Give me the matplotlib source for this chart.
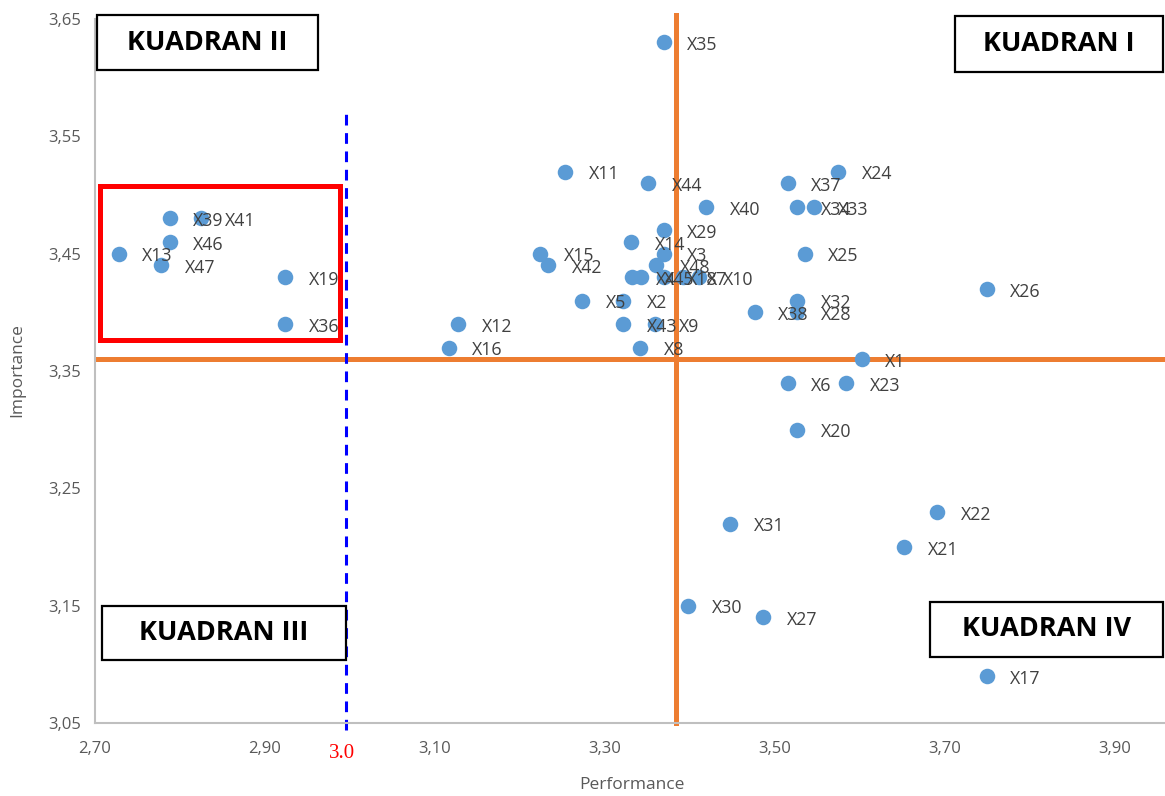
import matplotlib
matplotlib.use("Agg")
import matplotlib.pyplot as plt
from matplotlib.patches import Rectangle

# IPA data: performance (x) vs importance (y)
labels = ["X1", "X2", "X3", "X4", "X5", "X6", "X7", "X8", "X9", "X10",
          "X11", "X12", "X13", "X14", "X15", "X16", "X17", "X18", "X19", "X20",
          "X21", "X22", "X23", "X24", "X25", "X26", "X27", "X28", "X29", "X30",
          "X31", "X32", "X33", "X34", "X35", "X36", "X37", "X38", "X39", "X40",
          "X41", "X42", "X43", "X44", "X45", "X46", "X47", "X48"]
performance = [3.602, 3.321, 3.369, 3.332, 3.273, 3.515, 3.392, 3.341, 3.359, 3.411,
               3.253, 3.127, 2.728, 3.331, 3.224, 3.116, 3.749, 3.369, 2.924, 3.526,
               3.652, 3.691, 3.584, 3.574, 3.535, 3.749, 3.486, 3.526, 3.369, 3.398,
               3.447, 3.526, 3.546, 3.526, 3.369, 2.924, 3.515, 3.476, 2.788, 3.419,
               2.825, 3.233, 3.321, 3.351, 3.342, 2.788, 2.778, 3.360]
importance = [3.36, 3.41, 3.45, 3.43, 3.41, 3.34, 3.43, 3.37, 3.39, 3.43,
              3.52, 3.39, 3.45, 3.46, 3.45, 3.37, 3.09, 3.43, 3.43, 3.30,
              3.20, 3.23, 3.34, 3.52, 3.45, 3.42, 3.14, 3.40, 3.47, 3.15,
              3.22, 3.41, 3.49, 3.49, 3.63, 3.39, 3.51, 3.40, 3.48, 3.49,
              3.48, 3.44, 3.39, 3.51, 3.43, 3.46, 3.44, 3.44]

mean_perf = 3.3835
mean_imp = 3.36
cut_perf = 2.995
x_ticks = [2.70, 2.90, 3.10, 3.30, 3.50, 3.70, 3.90]
y_ticks = [3.05, 3.15, 3.25, 3.35, 3.45, 3.55, 3.65]

W, H = 1165, 796
fig = plt.figure(figsize=(W / 100, H / 100), dpi=100)
ax = fig.add_axes([95 / W, 1 - 723 / H, 1 - 95 / W, (723 - 19) / H])
ax.set_xlim(2.70, 2.70 + 1070 / 850)
ax.set_ylim(3.05, 3.65)

ax.axvline(mean_perf, color="#ED7D31", lw=3.6, zorder=1, ymax=1.006, clip_on=False)
ax.axhline(mean_imp, color="#ED7D31", lw=3.6, zorder=1)
ax.plot([cut_perf, cut_perf], [3.044, 3.574], color="#0000FF", lw=2.2,
        dashes=(3.5, 2.5), clip_on=False, zorder=1)

ax.scatter(performance, importance, s=125, color="#5B9BD5", zorder=3, linewidths=0)
for lab, x, y in zip(labels, performance, importance):
    ax.annotate(lab, (x, y), xytext=(17, -2), textcoords="offset points",
                va="center", ha="left", fontsize=12.8, color="#404040",
                family="Open Sans", zorder=4)

ax.add_patch(Rectangle((2.706, 3.3765), 2.988 - 2.706, 3.508 - 3.3765,
                       fill=False, edgecolor="#FF0000", lw=3.6, zorder=2))

ax.set_xticks(x_ticks)
ax.set_yticks(y_ticks)
ax.set_xticklabels([f"{v:.2f}".replace(".", ",") for v in x_ticks])
ax.set_yticklabels([f"{v:.2f}".replace(".", ",") for v in y_ticks])
ax.tick_params(length=0, labelsize=12, labelcolor="#595959", pad=13)
ax.tick_params(axis="y", pad=10)
for t in ax.get_xticklabels() + ax.get_yticklabels():
    t.set_family("Open Sans")
for side in ["top", "right"]:
    ax.spines[side].set_visible(False)
for side in ["left", "bottom"]:
    ax.spines[side].set_color("#BFBFBF")
    ax.spines[side].set_linewidth(1.5)

ax.text(2.99, -0.03, "3.0", transform=ax.get_xaxis_transform(), ha="center",
        va="top", color="red", fontsize=15, family="Liberation Serif")

fig.text(632 / W, 1 - 785 / H, "Performance", ha="center", va="center",
         fontsize=12.5, color="#595959", family="Open Sans")
fig.text(17 / W, 1 - 370 / H, "Importance", ha="center", va="center",
         rotation=90, fontsize=12.5, color="#595959", family="Open Sans")

# quadrant name boxes (pixel positions on the figure)
boxes = [("KUADRAN II", 97, 15, 318, 70),
         ("KUADRAN I", 955, 16, 1163, 72),
         ("KUADRAN III", 102, 606, 346, 660),
         ("KUADRAN IV", 930, 602, 1163, 657)]
for name, x0, y0, x1, y1 in boxes:
    fig.patches.append(Rectangle((x0 / W, 1 - y1 / H), (x1 - x0) / W, (y1 - y0) / H,
                                 transform=fig.transFigure, fill=True,
                                 facecolor="white", edgecolor="black", lw=1.6, zorder=5))
    fig.text((x0 + x1) / 2 / W, 1 - (y0 + y1) / 2 / H, name, ha="center", va="center",
             fontsize=19.5, fontweight="bold", color="black", family="Open Sans", zorder=6)

fig.savefig("out.png", dpi=100)
